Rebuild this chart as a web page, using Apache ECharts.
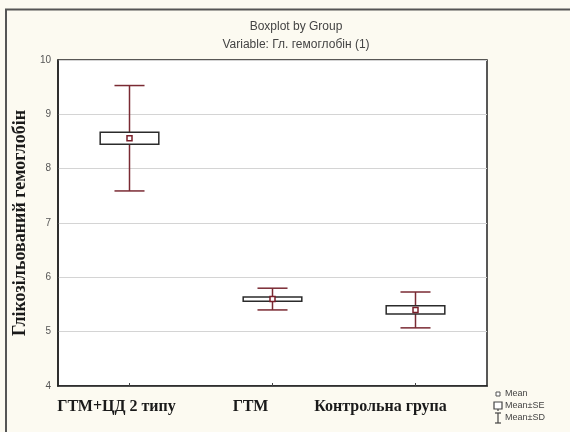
<!DOCTYPE html>
<html>
<head>
<meta charset="utf-8">
<script src="https://cdn.jsdelivr.net/npm/echarts@6/dist/echarts.min.js"></script>
<style>
  html, body { margin: 0; padding: 0; background: #fcfaf1; }
  #chart { width: 570px; height: 432px; }
</style>
</head>
<body>
<div id="chart"></div>
<script>
// Groups and their summary statistics (glycated haemoglobin, %)
const categories = ['ГТМ+ЦД 2 типу', 'ГТМ', 'Контрольна група'];
const means = [8.56, 5.60, 5.40];
const stdErr = [0.11, 0.04, 0.075];
const stdDev = [0.97, 0.20, 0.33];
const yTicks = [4, 5, 6, 7, 8, 9, 10];

const whiskerColor = '#7a2a33';
const boxColor = '#2b2b2b';
const meanColor = '#7a1f2a';

const seriesData = categories.map((c, i) => [i, means[i], stdErr[i], stdDev[i]]);

function renderBox(params, api) {
  const idx = api.value(0);
  const m = api.value(1), se = api.value(2), sd = api.value(3);
  const top = api.coord([idx, m + sd]);
  const bot = api.coord([idx, m - sd]);
  const boxTop = api.coord([idx, m + se]);
  const boxBot = api.coord([idx, m - se]);
  const mid = api.coord([idx, m]);
  const x = mid[0];
  const bandW = api.size([1, 0])[0];
  const boxW = bandW * 0.41;
  const capW = bandW * 0.21;
  return {
    type: 'group',
    children: [
      { type: 'line', shape: { x1: x, y1: top[1], x2: x, y2: bot[1] },
        style: { stroke: whiskerColor, lineWidth: 1.5 } },
      { type: 'line', shape: { x1: x - capW / 2, y1: top[1], x2: x + capW / 2, y2: top[1] },
        style: { stroke: whiskerColor, lineWidth: 1.5 } },
      { type: 'line', shape: { x1: x - capW / 2, y1: bot[1], x2: x + capW / 2, y2: bot[1] },
        style: { stroke: whiskerColor, lineWidth: 1.5 } },
      { type: 'rect', shape: { x: x - boxW / 2, y: boxTop[1], width: boxW, height: boxBot[1] - boxTop[1] },
        style: { fill: '#ffffff', stroke: boxColor, lineWidth: 1.5 } },
      { type: 'rect', shape: { x: x - 2.5, y: mid[1] - 2.5, width: 5, height: 5 },
        style: { fill: '#ffffff', stroke: meanColor, lineWidth: 1.5 } }
    ]
  };
}

// category labels sit a little left of their tick marks
const labelFont = { fontFamily: 'Liberation Serif', fontWeight: 'bold', fontSize: 16, color: '#1a1a1a' };
const labelRich = {
  l0: Object.assign({ padding: [0, 26, 0, 0] }, labelFont),
  l1: Object.assign({ padding: [0, 44, 0, 0] }, labelFont),
  l2: Object.assign({ padding: [0, 70, 0, 0] }, labelFont)
};

const chart = echarts.init(document.getElementById('chart'), null, { renderer: 'canvas' });

chart.setOption({
  backgroundColor: '#fcfaf1',
  animation: false,
  title: [
    { text: 'Boxplot by Group', left: 291, top: 16, textAlign: 'center',
      textStyle: { fontFamily: 'Liberation Sans', fontSize: 12, fontWeight: 'normal', color: '#444' } },
    { text: 'Variable: Гл. гемоглобін (1)', left: 291, top: 34, textAlign: 'center',
      textStyle: { fontFamily: 'Liberation Sans', fontSize: 12, fontWeight: 'normal', color: '#444' } }
  ],
  grid: { left: 58, right: 83, top: 60, bottom: 46, show: true, backgroundColor: '#ffffff',
    borderColor: '#222', borderWidth: 1.5 },
  xAxis: {
    type: 'category',
    data: categories,
    boundaryGap: true,
    axisLine: { show: true, lineStyle: { color: '#222', width: 1.5 } },
    axisTick: { show: true, inside: true, alignWithLabel: true, length: 3, lineStyle: { color: '#444' } },
    axisLabel: {
      interval: 0,
      margin: 13,
      formatter: (v, i) => '{l' + i + '|' + v + '}',
      rich: labelRich
    },
    splitLine: { show: false }
  },
  yAxis: {
    type: 'value',
    min: yTicks[0],
    max: yTicks[yTicks.length - 1],
    interval: 1,
    name: 'Глікозільований гемоглобін',
    nameLocation: 'middle',
    nameRotate: 90,
    nameGap: 26,
    nameTextStyle: { fontFamily: 'Liberation Serif', fontWeight: 'bold', fontSize: 18, color: '#1a1a1a' },
    axisLine: { show: true, lineStyle: { color: '#222', width: 1.5 } },
    axisTick: { show: false },
    axisLabel: { margin: 7, fontFamily: 'Liberation Sans', fontSize: 10, color: '#555' },
    splitLine: { show: true, lineStyle: { color: '#d4d4d4', width: 1 } }
  },
  series: [{
    type: 'custom',
    renderItem: renderBox,
    data: seriesData,
    encode: { x: 0, y: [1] },
    z: 5
  }],
  graphic: [
    // outer frame
    { type: 'polyline', shape: { points: [[6, 432], [6, 9.5], [570, 9.5]] },
      style: { stroke: '#555', lineWidth: 2, fill: null }, z: 10 },
    // legend: Mean
    { type: 'rect', shape: { x: 496, y: 392, width: 4, height: 4 },
      style: { fill: '#fff', stroke: '#555', lineWidth: 1 } },
    { type: 'text', x: 505, y: 394, style: { text: 'Mean', fontFamily: 'Liberation Sans', fontSize: 9,
      fill: '#444', verticalAlign: 'middle' } },
    // legend: Mean±SE
    { type: 'rect', shape: { x: 494, y: 402, width: 8, height: 7 },
      style: { fill: '#fff', stroke: '#444', lineWidth: 1.2 } },
    { type: 'line', shape: { x1: 498, y1: 409, x2: 498, y2: 411 }, style: { stroke: '#444', lineWidth: 1.2 } },
    { type: 'text', x: 505, y: 406, style: { text: 'Mean±SE', fontFamily: 'Liberation Sans', fontSize: 9,
      fill: '#444', verticalAlign: 'middle' } },
    // legend: Mean±SD
    { type: 'line', shape: { x1: 498, y1: 413, x2: 498, y2: 423 }, style: { stroke: '#444', lineWidth: 1.2 } },
    { type: 'line', shape: { x1: 495, y1: 413, x2: 501, y2: 413 }, style: { stroke: '#444', lineWidth: 1.2 } },
    { type: 'line', shape: { x1: 495, y1: 423, x2: 501, y2: 423 }, style: { stroke: '#444', lineWidth: 1.2 } },
    { type: 'text', x: 505, y: 418, style: { text: 'Mean±SD', fontFamily: 'Liberation Sans', fontSize: 9,
      fill: '#444', verticalAlign: 'middle' } }
  ]
});
</script>
</body>
</html>
